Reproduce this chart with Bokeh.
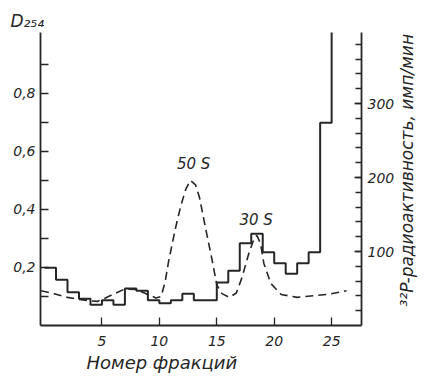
import math
from bokeh.plotting import figure
from bokeh.layouts import row
from bokeh.models import Range1d, LinearAxis, FixedTicker, CustomJSTickFormatter, Label, Title
from bokeh.embed import file_html
from bokeh.resources import INLINE

# ---- data -------------------------------------------------------------
# fraction numbers; fraction n occupies the interval [n-1, n]
fractions = list(range(1, 27))
# 32P radioactivity, imp/min (right axis)
counts = [78, 62, 45, 36, 28, 34, 28, 50, 47, 34, 30, 34, 43, 34, 34,
          58, 74, 111, 124, 99, 84, 70, 84, 99, 274, 420]

# D254 absorbance (left axis), dashed smooth curve
d_x = [-0.3, 1.0, 2.0, 3.0, 4.0, 4.6, 5.3, 6.1, 7.0, 8.0, 9.0, 9.7, 10.15,
       10.5, 10.8, 11.4, 11.85, 12.3, 12.7, 13.15, 13.5, 14.0, 14.6, 15.0,
       15.45, 16.1, 16.7, 17.2, 17.8, 18.3, 18.5, 18.8, 19.1, 19.7, 20.6,
       22.0, 24.8, 26.3]
d_y = [0.120, 0.108, 0.097, 0.090, 0.085, 0.083, 0.095, 0.110, 0.126, 0.124,
       0.107, 0.095, 0.100, 0.150, 0.220, 0.335, 0.410, 0.470, 0.500, 0.485,
       0.440, 0.340, 0.224, 0.140, 0.110, 0.097, 0.112, 0.166, 0.250, 0.305,
       0.310, 0.283, 0.214, 0.145, 0.107, 0.097, 0.108, 0.120]

x_ticks = [5, 10, 15, 20, 25]
left_ticks = [0.2, 0.4, 0.6, 0.8]
left_minor = [0.1, 0.3, 0.5, 0.7, 0.9]
right_ticks = [100, 200, 300]
right_minor = list(range(20, 400, 20))

X_MIN, X_MAX = -0.35, 27.6
D_MAX = 1.01
CPM_MAX = 396

INK = "#262626"
FONT = "DejaVu Sans"
H = 374

# ---- figure -----------------------------------------------------------
p = figure(width=397, height=H, output_backend="svg", toolbar_location=None,
           x_range=Range1d(X_MIN, X_MAX), y_range=Range1d(0, D_MAX),
           min_border_left=40, min_border_right=34,
           min_border_top=32, min_border_bottom=49)
p.extra_y_ranges = {"cpm": Range1d(0, CPM_MAX)}
p.grid.visible = False
p.outline_line_color = None
p.background_fill_color = "white"
p.border_fill_color = "white"

def style_axis(ax, tick_in, standoff):
    ax.axis_line_color = INK
    ax.axis_line_width = 1.8
    ax.major_tick_line_color = INK
    ax.minor_tick_line_color = INK
    ax.major_tick_line_width = 1.3
    ax.minor_tick_line_width = 1.3
    ax.major_tick_in = tick_in
    ax.major_tick_out = 0
    ax.minor_tick_in = tick_in
    ax.minor_tick_out = 0
    ax.major_label_text_font = FONT
    ax.major_label_text_font_style = "italic"
    ax.major_label_text_font_size = "14px"
    ax.major_label_text_color = INK
    ax.major_label_standoff = standoff

# bottom axis
xa = p.xaxis[0]
xa.ticker = FixedTicker(ticks=x_ticks, minor_ticks=[])
style_axis(xa, 8, 10)

# left axis
ya = p.yaxis[0]
ya.ticker = FixedTicker(ticks=left_ticks, minor_ticks=left_minor)
ya.formatter = CustomJSTickFormatter(code="return tick.toFixed(1).replace('.', ',');")
style_axis(ya, 8, 5)

# right axis
ra = LinearAxis(y_range_name="cpm",
                ticker=FixedTicker(ticks=right_ticks, minor_ticks=right_minor))
style_axis(ra, 7, 6)
ra.minor_tick_in = 6
p.add_layout(ra, "right")

# ---- step histogram (radioactivity) ----------------------------------
sx, sy = [], []
for n, c in zip(fractions, counts):
    sx += [max(n - 1, X_MIN), n]
    sy += [c, c]
p.line(sx, sy, y_range_name="cpm", line_color=INK, line_width=2.0)

# ---- dashed absorbance curve -----------------------------------------
p.line(d_x, d_y, line_color=INK, line_width=1.6, line_dash="8 5")

# ---- texts -------------------------------------------------------------
def lab(fig, x, y, text, size, angle=0.0):
    fig.add_layout(Label(x=x, y=y, text=text, angle=angle,
                         text_font=FONT, text_font_style="italic",
                         text_font_size=size, text_color=INK,
                         text_align="center", text_baseline="middle"))

lab(p, 12.98, 0.555, "50 S", "15px")
lab(p, 18.43, 0.365, "30 S", "15px")

p.add_layout(Title(text="Номер фракций", align="left", offset=46, standoff=2,
                   text_font=FONT, text_font_style="italic",
                   text_font_size="18px", text_color=INK), "below")
p.add_layout(Title(text="D₂₅₄", align="left", offset=-30, standoff=4,
                   text_font=FONT, text_font_style="italic",
                   text_font_size="17px", text_color=INK), "above")

# ---- narrow strip holding the rotated right-axis title ----------------
q = figure(width=22, height=H, output_backend="svg", toolbar_location=None,
           x_range=Range1d(0, 1), y_range=Range1d(0, 1),
           x_axis_type=None, y_axis_type=None,
           min_border_left=0, min_border_right=0,
           min_border_top=0, min_border_bottom=0)
q.grid.visible = False
q.outline_line_color = None
q.background_fill_color = "white"
q.border_fill_color = "white"
lab(q, 0.45, 0.53, "³²P-радиоактивность, имп/мин", "17px", angle=math.pi / 2)

layout = row(p, q, spacing=0)
open("out.html", "w").write(file_html(layout, INLINE))
